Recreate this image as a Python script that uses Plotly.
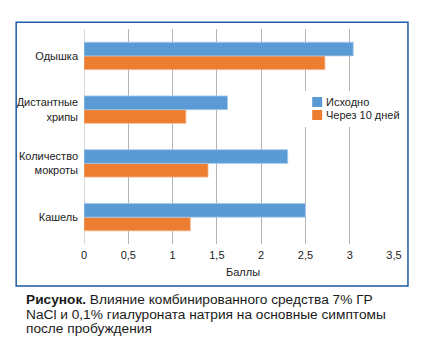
import plotly.graph_objects as go

categories = ["Кашель", "Количество<br>мокроты", "Дистантные<br>хрипы", "Одышка"]
initial = [2.5, 2.3, 1.62, 3.04]
after10 = [1.2, 1.4, 1.15, 2.72]
x_ticks = [0, 0.5, 1, 1.5, 2, 2.5, 3, 3.5]
series_names = ["Исходно", "Через 10 дней"]
series_colors = ["#5b9bd5", "#ed7d31"]

FONT = "Liberation Sans Narrow, Arial Narrow, Liberation Sans, Arial, sans-serif"
CAP_FONT = "Liberation Sans, Arial, sans-serif"
TXT = "#222222"

fig = go.Figure()
fig.add_trace(go.Bar(
    y=categories, x=after10, orientation="h", name=series_names[1],
    marker=dict(color=series_colors[1], line=dict(color="#f6b48a", width=0.8)),
    showlegend=False,
))
fig.add_trace(go.Bar(
    y=categories, x=initial, orientation="h", name=series_names[0],
    marker=dict(color=series_colors[0], line=dict(color="#a9c9ea", width=0.8)),
    showlegend=False,
))

L, R, T, B = 83.5, 31.7, 29, 99
W, H = 426, 343
pw = W - L - R
ph = H - T - B

def px(x):
    return (x - L) / pw

def py(y):
    return (H - B - y) / ph

fig.update_layout(
    width=W, height=H,
    margin=dict(l=L, r=R, t=T, b=B, pad=0),
    paper_bgcolor="white", plot_bgcolor="white",
    barmode="group", bargap=0.49, bargroupgap=0,
    separators=", ",
    font=dict(family=FONT, size=11, color=TXT),
    showlegend=False,
    xaxis=dict(
        range=[0, 3.5], tickvals=x_ticks, showgrid=True,
        gridcolor="#b3b3b3", gridwidth=1, zeroline=False,
        showline=False, ticks="", ticklabelstandoff=3,
        tickfont=dict(family=FONT, size=11, color=TXT),
    ),
    yaxis=dict(
        range=[-0.5, 3.5], showgrid=False, zeroline=False, showline=False,
        ticks="", ticklabelstandoff=5,
        tickfont=dict(family=FONT, size=11, color=TXT),
    ),
)

# zero line (left gridline)
fig.add_shape(type="line", xref="x", yref="paper", x0=0, x1=0, y0=0, y1=1,
              line=dict(color="#b3b3b3", width=1), layer="below")

# legend (white box, swatches, labels)
fig.add_shape(type="rect", xref="paper", yref="paper",
              x0=px(302), x1=px(406), y0=py(127), y1=py(91),
              fillcolor="white", line=dict(width=0), layer="above")
leg_y = [102, 115]
for name, col, yy in zip(series_names, series_colors, leg_y):
    fig.add_shape(type="rect", xref="paper", yref="paper",
                  x0=px(312.3), x1=px(322.3), y0=py(yy + 5), y1=py(yy - 5),
                  fillcolor=col, line=dict(width=0), layer="above")
    fig.add_annotation(text=name, xref="paper", yref="paper",
                       x=px(324.5), y=py(yy), showarrow=False,
                       xanchor="left", yanchor="middle",
                       font=dict(family=FONT, size=11, color=TXT))

# frame
fig.add_shape(type="rect", xref="paper", yref="paper",
              x0=px(15.5), x1=px(408.3), y0=py(286), y1=py(22.3),
              line=dict(color="#1f5aa6", width=1.5), layer="above")

fig.add_annotation(text="Баллы", xref="paper", yref="paper",
                   x=px(243), y=py(271.7), showarrow=False,
                   xanchor="center", yanchor="middle",
                   font=dict(family=FONT, size=11, color=TXT))

caption_lines = [
    "<b>Рисунок.</b> Влияние комбинированного средства 7% ГР",
    "NaCl и 0,1% гиалуроната натрия на основные симптомы",
    "после пробуждения",
]
caption_y = [299.5, 314, 328]
for line, yy in zip(caption_lines, caption_y):
    fig.add_annotation(text=line, xref="paper", yref="paper",
                       x=px(23), y=py(yy), showarrow=False,
                       xanchor="left", yanchor="middle",
                       font=dict(family=CAP_FONT, size=13.7, color="#1a1a1a"))

fig.write_html("out.html")
